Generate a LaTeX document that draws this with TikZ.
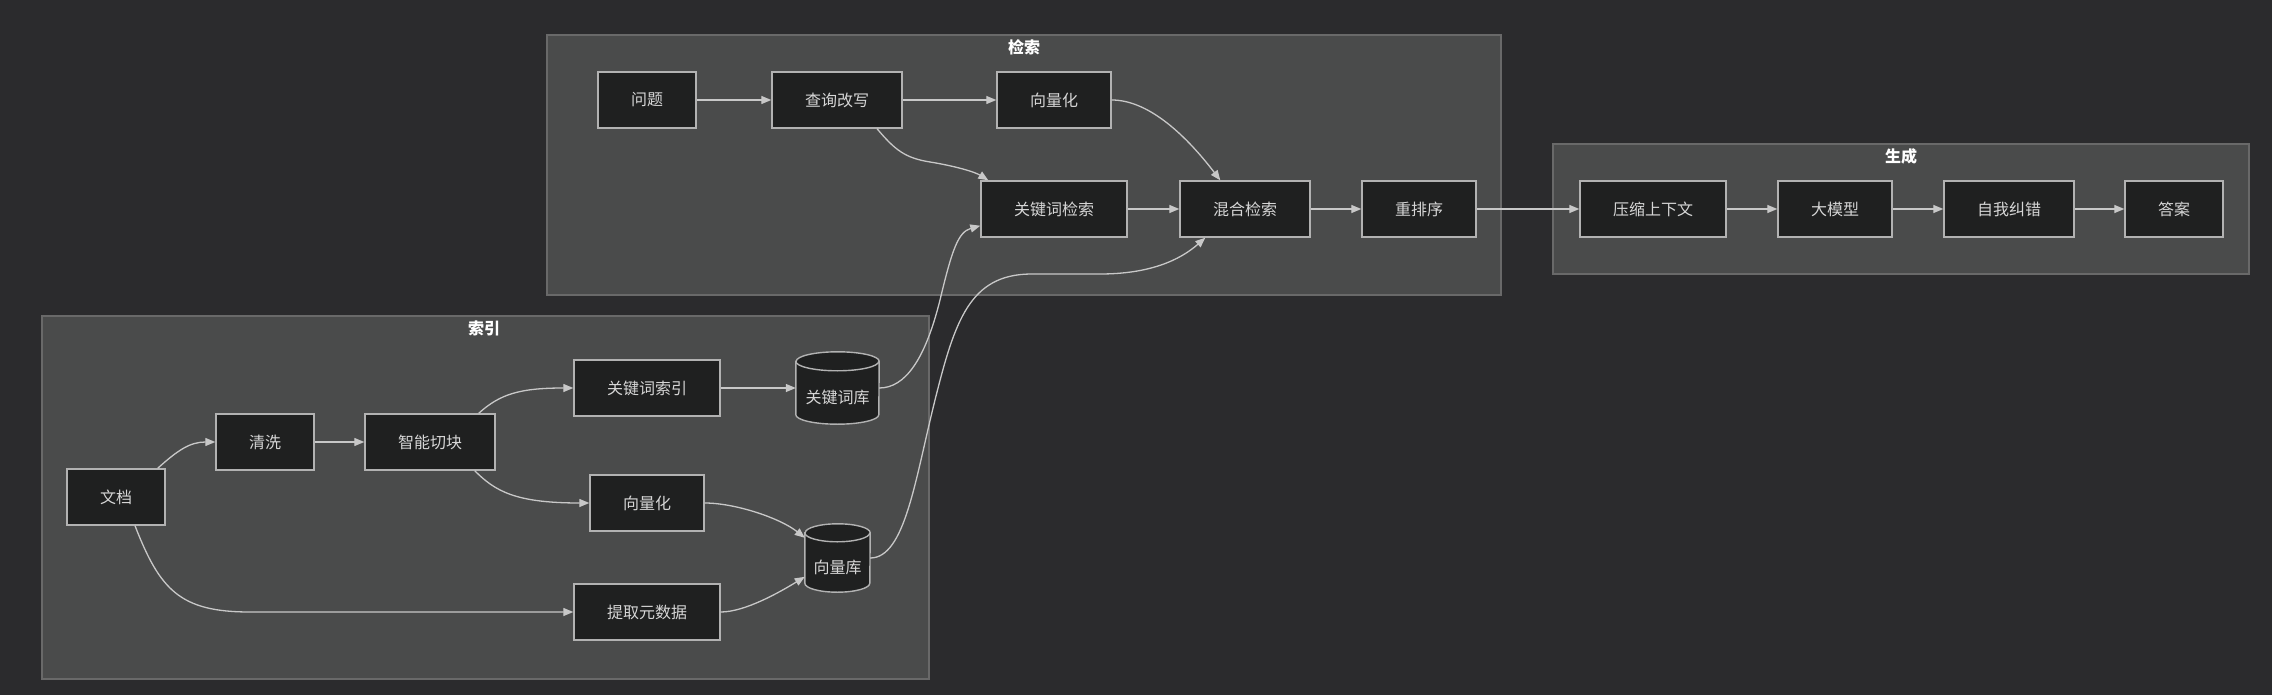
\documentclass[tikz,border=0pt]{standalone}
\usepackage{fontspec}
\newfontfamily\cjk{Noto Sans CJK SC}
\usetikzlibrary{arrows.meta,calc}
\definecolor{bgc}{RGB}{43,43,45}
\definecolor{framefill}{RGB}{74,75,75}
\definecolor{framedraw}{RGB}{105,105,105}
\definecolor{nodefill}{RGB}{31,32,32}
\definecolor{nodedraw}{RGB}{178,178,178}
\definecolor{edgec}{RGB}{200,200,200}
\definecolor{txt}{RGB}{214,214,214}
\tikzset{
  frame/.style={fill=framefill,draw=framedraw,line width=1.3pt},
  ftitle/.style={font=\cjk\bfseries\fontsize{16}{19}\selectfont,text=white,inner sep=0pt},
  box/.style={draw=nodedraw,fill=nodefill,line width=1.4pt,minimum height=56pt,
    inner xsep=33pt,inner ysep=0pt,font=\cjk\fontsize{16}{19}\selectfont,text=txt},
  cylnode/.style={inner sep=0pt,font=\cjk\fontsize{16}{19}\selectfont,text=txt},
  cyl/.style={draw=nodedraw,fill=nodefill,line width=1.4pt},
  conn/.style={draw=edgec,line width=1.3pt,-{Triangle[length=10pt,width=8pt]}},
}
\begin{document}
\begin{tikzpicture}[x=1pt,y=-1pt]
\useasboundingbox[fill=bgc] (0,0) rectangle (2272,695);
% frames
\path[frame] (42,316) rectangle (929,679);
\node[ftitle] (tidx) at (484,328) {索引};
\path[frame] (547,35) rectangle (1501,295);
\node[ftitle] (tret) at (1024,47) {检索};
\path[frame] (1553,144) rectangle (2249,274);
\node[ftitle] (tgen) at (1901,156) {生成};

% index nodes
\node[box] (doc) at (116,497) {文档};
\node[box] (clean) at (265,442) {清洗};
\node[box] (chunk) at (430,442) {智能切块};
\node[box] (kwi) at (647,388) {关键词索引};
\node[box] (vecA) at (647,503) {向量化};
\node[box] (meta) at (647,612) {提取元数据};
% cylinders
\node[minimum width=83pt,minimum height=72pt,inner sep=0pt] (kdb) at (837.5,388) {};
\path[cyl] ($(kdb.north west)+(0,9.5)$) -- ($(kdb.south west)+(0,-9.5)$)
  arc[start angle=180,end angle=360,x radius=41.5pt,y radius=9.5pt]
  -- ($(kdb.north east)+(0,9.5)$)
  arc[start angle=0,end angle=180,x radius=41.5pt,y radius=9.5pt] -- cycle;
\draw[cyl,fill=none] ($(kdb.north west)+(0,9.5)$) arc[start angle=180,end angle=360,x radius=41.5pt,y radius=9.5pt];
\node[cylnode] (kdbt) at ($(kdb.center)+(0,9)$) {关键词库};
\node[minimum width=65pt,minimum height=68pt,inner sep=0pt] (vdb) at (837.5,558) {};
\path[cyl] ($(vdb.north west)+(0,9)$) -- ($(vdb.south west)+(0,-9)$)
  arc[start angle=180,end angle=360,x radius=32.5pt,y radius=9pt]
  -- ($(vdb.north east)+(0,9)$)
  arc[start angle=0,end angle=180,x radius=32.5pt,y radius=9pt] -- cycle;
\draw[cyl,fill=none] ($(vdb.north west)+(0,9)$) arc[start angle=180,end angle=360,x radius=32.5pt,y radius=9pt];
\node[cylnode] (vdbt) at ($(vdb.center)+(0,9)$) {向量库};

% retrieval nodes
\node[box] (q) at (647,100) {问题};
\node[box] (qr) at (837,100) {查询改写};
\node[box] (vecB) at (1054,100) {向量化};
\node[box] (kws) at (1054,209) {关键词检索};
\node[box] (hs) at (1245,209) {混合检索};
\node[box] (rr) at (1419,209) {重排序};

% generation nodes
\node[box] (cc) at (1653,209) {压缩上下文};
\node[box] (llm) at (1835,209) {大模型};
\node[box] (sc) at (2009,209) {自我纠错};
\node[box] (ans) at (2174,209) {答案};

% index edges
\draw[conn] ($(doc.north east)+(-8,0)$) .. controls (178,450) and (190,442) .. (clean.west);
\draw[conn] (clean) -- (chunk);
\draw[conn] ($(chunk.north east)+(-17,0)$) .. controls (500,394) and (520,388) .. (kwi.west);
\draw[conn] ($(chunk.south east)+(-21,0)$) .. controls (495,491) and (515,503) .. (vecA.west);
\draw[conn] ($(doc.south)+(19,0)$) .. controls (160,590) and (180,612) .. (250,612) -- (meta.west);
\draw[conn] (kwi) -- (kdb.west);
\draw[conn] (vecA.east) .. controls (735,503) and (780,518) .. ($(vdb.north west)+(0,14)$);
\draw[conn] (meta.east) .. controls (745,612) and (780,592) .. ($(vdb.north west)+(0,53)$);
\draw[conn] (kdb.east) .. controls (905,388) and (925,360) .. (940,300)
  .. controls (952,250) and (958,232) .. ($(kws.south west)+(0,-12)$);
\draw[conn] (vdb.east) .. controls (905,558) and (915,480) .. (935,400)
  .. controls (955,320) and (970,275) .. (1030,274) -- (1100,274)
  .. controls (1150,274) and (1180,260) .. ($(hs.south west)+(26,0)$);

% retrieval edges
\draw[conn] (q) -- (qr);
\draw[conn] (qr) -- (vecB);
\draw[conn] ($(qr.south)+(40,0)$) .. controls (895,150) and (905,158) .. (930,162)
  .. controls (955,166) and (975,172) .. ($(kws.north west)+(8,0)$);
\draw[conn] (vecB.east) .. controls (1150,100) and (1188,138) .. ($(hs.north west)+(41,0)$);
\draw[conn] (kws) -- (hs);
\draw[conn] (hs) -- (rr);
\draw[conn] (rr) -- (cc);

% generation edges
\draw[conn] (cc) -- (llm);
\draw[conn] (llm) -- (sc);
\draw[conn] (sc) -- (ans);
\end{tikzpicture}
\end{document}
